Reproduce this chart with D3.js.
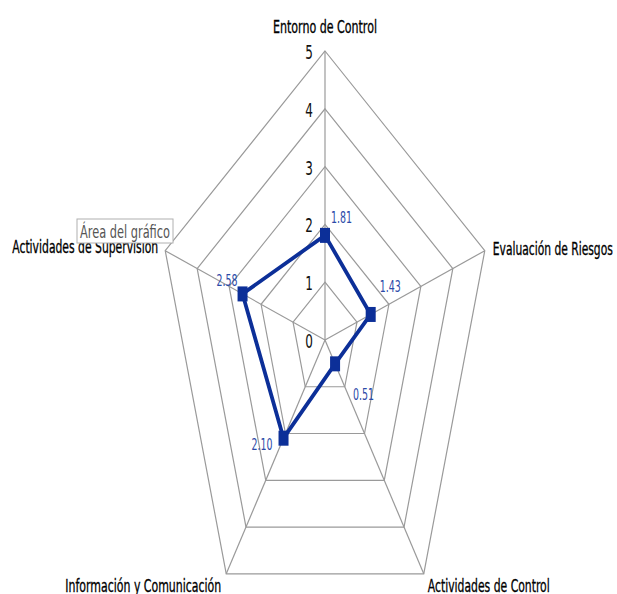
<!DOCTYPE html>
<html>
<head>
<meta charset="utf-8">
<script src="https://cdn.jsdelivr.net/npm/d3@7"></script>
<style>
	body { margin: 0; background: #fff; }
	text { font-family: "DejaVu Sans", Verdana, sans-serif; }
</style>
</head>
<body>
<div id="chart"></div>
<script>
var categories = ["Entorno de Control", "Evaluación de Riesgos", "Actividades de Control", "Información y Comunicación", "Actividades de Supervisión"];
var scores = [1.81, 1.43, 0.51, 2.10, 2.58];
var scoreLabels = ["1.81", "1.43", "0.51", "2.10", "2.58"];
var tickValues = [0, 1, 2, 3, 4, 5];

// set the dimensions of the graph
var width = 617, height = 594;
var cx = 325, cy = 340;
var Rx = 168, Ry = 289;

var svg = d3.select("#chart").append("svg")
	.attr("width", width)
	.attr("height", height);

// radius scale and the two (stretched) screen scales
var r = d3.scaleLinear().domain([0, 5]).range([0, 1]);
var px = d3.scaleLinear().domain([-1, 1]).range([cx - Rx, cx + Rx]);
var py = d3.scaleLinear().domain([-1, 1]).range([cy - Ry, cy + Ry]);

function angle(i) { return i * 2 * Math.PI / categories.length; }
function pt(i, v) {
	return [px(r(v) * Math.sin(angle(i))), py(-r(v) * Math.cos(angle(i)))];
}

// rings
tickValues.filter(function(t) { return t > 0; }).forEach(function(t) {
	var ring = categories.map(function(c, i) { return pt(i, t); });
	svg.append("path")
		.attr("d", d3.line()(ring) + "Z")
		.attr("fill", "none")
		.attr("stroke", "#9a9a9a")
		.attr("stroke-width", 1.2);
});

// spokes
categories.forEach(function(c, i) {
	var p0 = pt(i, 0), p1 = pt(i, 5);
	svg.append("line")
		.attr("x1", p0[0]).attr("y1", p0[1])
		.attr("x2", p1[0]).attr("y2", p1[1])
		.attr("stroke", "#9a9a9a")
		.attr("stroke-width", 1.2);
});

// tick labels on the top axis
svg.selectAll(".tick")
	.data(tickValues)
	.enter().append("text")
	.attr("class", "tick")
	.attr("transform", function(d) { var p = pt(0, d); return "translate(" + (p[0] - 12) + "," + (p[1] + 8) + ") scale(1,1.6)"; })
	.attr("text-anchor", "end")
	.attr("font-size", 12)
	.attr("fill", "#111")
	.text(function(d) { return d; });

// category labels
var catPos = [
	{dx: 0, dy: -18, anchor: "middle", len: 104},
	{dx: 8, dy: 4, anchor: "start", len: 120},
	{dx: 4, dy: 18, anchor: "start", len: 122},
	{dx: -5, dy: 18, anchor: "end", len: 156},
	{dx: -7, dy: 2, anchor: "end", len: 146}
];
svg.selectAll(".cat")
	.data(categories)
	.enter().append("text")
	.attr("class", "cat")
	.attr("transform", function(d, i) { var p = pt(i, 5); return "translate(" + (p[0] + catPos[i].dx) + "," + (p[1] + catPos[i].dy) + ") scale(1,1.85)"; })
	.attr("text-anchor", function(d, i) { return catPos[i].anchor; })
	.attr("textLength", function(d, i) { return catPos[i].len; })
	.attr("lengthAdjust", "spacingAndGlyphs")
	.attr("font-size", 10)
	.attr("fill", "#000")
	.attr("stroke", "#000")
	.attr("stroke-width", 0.2)
	.text(function(d) { return d; });

// the series line
var pts = scores.map(function(v, i) { return pt(i, v); });
svg.append("path")
	.attr("d", d3.line()(pts) + "Z")
	.attr("fill", "none")
	.attr("stroke", "#0c2f98")
	.attr("stroke-width", 3.8)
	.attr("stroke-linejoin", "round");

// markers
svg.selectAll(".mk")
	.data(pts)
	.enter().append("rect")
	.attr("class", "mk")
	.attr("x", function(d) { return d[0] - 5; })
	.attr("y", function(d) { return d[1] - 7.5; })
	.attr("width", 10)
	.attr("height", 15)
	.attr("fill", "#0c2f98");

// data labels
var lblPos = [
	{dx: 6, dy: -12, anchor: "start"},
	{dx: 9, dy: -22, anchor: "start"},
	{dx: 18, dy: 36, anchor: "start"},
	{dx: -11, dy: 12, anchor: "end"},
	{dx: -5, dy: -8, anchor: "end"}
];
svg.selectAll(".lbl")
	.data(scoreLabels)
	.enter().append("text")
	.attr("class", "lbl")
	.attr("transform", function(d, i) { return "translate(" + (pts[i][0] + lblPos[i].dx) + "," + (pts[i][1] + lblPos[i].dy) + ") scale(1,1.65)"; })
	.attr("text-anchor", function(d, i) { return lblPos[i].anchor; })
	.attr("textLength", 21)
	.attr("lengthAdjust", "spacingAndGlyphs")
	.attr("font-size", 10)
	.attr("fill", "#2b4aa8")
	.text(function(d) { return d; });

// tooltip box over the chart area
var tip = svg.append("g").attr("transform", "translate(77,219)");
tip.append("rect")
	.attr("width", 96).attr("height", 24)
	.attr("fill", "#fff")
	.attr("stroke", "#b0b0b0");
tip.append("text")
	.attr("transform", "translate(3,19) scale(1,1.75)")
	.attr("textLength", 90)
	.attr("lengthAdjust", "spacingAndGlyphs")
	.attr("font-size", 10)
	.attr("fill", "#555")
	.text("Área del gráfico");
</script>
</body>
</html>
